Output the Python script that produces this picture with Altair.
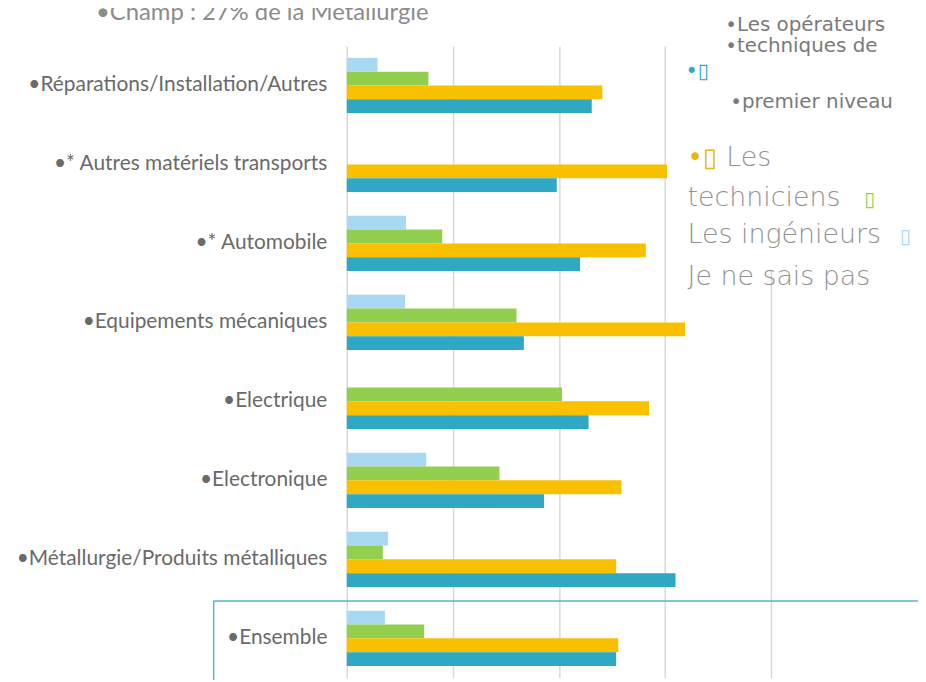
import altair as alt
import pandas as pd

categories = [
    "•Réparations/Installation/Autres",
    "•* Autres matériels transports",
    "•* Automobile",
    "•Equipements  mécaniques",
    "•Electrique",
    "•Electronique",
    "•Métallurgie/Produits métalliques",
    "•Ensemble",
]
series = ["Je ne sais pas", "Les ingénieurs", "Les techniciens",
          "Les opérateurs techniques de premier niveau"]
ne_sais_pas = [2.9, None, 5.6, 5.5, None, 7.5, 3.9, 3.6]
ingenieurs = [7.7, None, 9.0, 16.0, 20.3, 14.4, 3.4, 7.3]
techniciens = [24.1, 30.2, 28.2, 31.9, 28.5, 25.9, 25.4, 25.6]
operateurs = [23.1, 19.8, 22.0, 16.7, 22.8, 18.6, 31.0, 25.4]
colors = ["#a9d8f3", "#92cf4e", "#f9c000", "#2fa8c4"]
title_text = "•Champ : 27% de la Métallurgie"

rows = []
for s, vals in zip(series, [ne_sais_pas, ingenieurs, techniciens, operateurs]):
    for c, v in zip(categories, vals):
        if v is not None:
            rows.append({"cat": c, "series": s, "value": v})
df = pd.DataFrame(rows)

bars = alt.Chart(df).mark_bar().encode(
    x=alt.X("value:Q", scale=alt.Scale(domain=[0, 40]),
            axis=alt.Axis(values=[0, 10, 20, 30, 40], labels=False, ticks=False,
                          domain=False, grid=True, gridColor="#d9d9d9",
                          gridWidth=1.5, title=None)),
    y=alt.Y("cat:N", sort=categories,
            scale=alt.Scale(paddingInner=0.3, paddingOuter=0.15),
            axis=alt.Axis(title=None, ticks=False, domain=False, labelFontSize=21,
                          labelFont="Lato", labelColor="#6a6a6a", labelPadding=20,
                          labelLimit=400)),
    yOffset=alt.YOffset("series:N", sort=series, scale=alt.Scale(paddingInner=0)),
    color=alt.Color("series:N", scale=alt.Scale(domain=series, range=colors),
                    legend=None),
)

one = pd.DataFrame({"k": [0]})

def txt(text, x, y, color="#808080", size=22, font="Lato", weight="normal"):
    return alt.Chart(one).mark_text(
        text=text, align="left", baseline="alphabetic", font=font,
        fontSize=size, color=color, fontWeight=weight
    ).encode(x=alt.value(x), y=alt.value(y))

cover = alt.Chart(one).mark_rect(color="white").encode(
    x=alt.value(333), x2=alt.value(579), y=alt.value(-44), y2=alt.value(226))

hline = alt.Chart(one).mark_rule(color="#5ab4c8", strokeWidth=1.5).encode(
    x=alt.value(-134), x2=alt.value(579), y=alt.value(558.7))
vline = alt.Chart(one).mark_rule(color="#5ab4c8", strokeWidth=1.5).encode(
    x=alt.value(-134), y=alt.value(558.7), y2=alt.value(640))

title = alt.Chart(one).mark_text(
    text=title_text, align="center", baseline="alphabetic", font="Lato",
    fontSize=24, color="#8c8c8c").encode(x=alt.value(-85), y=alt.value(-26))

wide = "DejaVu Sans"
gray = "#939393"
legend = [
    txt("•Les opérateurs", 381, -15, size=20, font=wide, color="#7a7a7a"),
    txt("•techniques de", 381, 6, size=20, font=wide, color="#7a7a7a"),
    txt("•▯", 341, 32, color="#2fa8c4", size=21, font=wide),
    txt("•premier niveau", 386, 62, size=20, font=wide, color="#7a7a7a"),
    txt("•▯", 343, 121, color="#e8b800", size=26, font=wide),
    txt("Les", 382, 121, size=27, font=wide, color=gray, weight=300),
    txt("techniciens", 343, 161, size=27, font=wide, color=gray, weight=300),
    txt("▯", 521, 161, size=20, font=wide, color="#92cf4e"),
    txt("Les ingénieurs", 343, 198, size=27, font=wide, color=gray, weight=300),
    txt("▯", 557, 198, size=20, font=wide, color="#a9d8f3"),
    txt("Je ne sais pas", 343, 241, size=27, font=wide, color=gray, weight=300),
]

chart = alt.layer(bars, cover, hline, vline, title, *legend).properties(
    width=427, height=636,
    autosize=alt.AutoSizeParams(type="none"),
    padding={"left": 341, "top": 36, "right": 148, "bottom": 0},
).configure_view(stroke=None)

chart.save("out.html", embed_options={"renderer": "svg", "actions": False})
